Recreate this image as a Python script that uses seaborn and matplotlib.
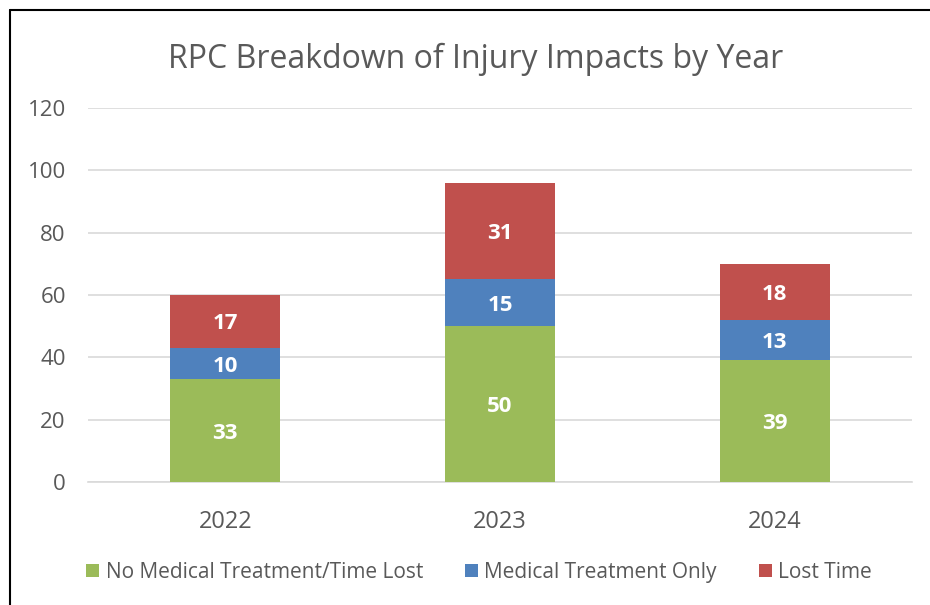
import numpy as np
import pandas as pd
import matplotlib
matplotlib.use('Agg')
import matplotlib.pyplot as plt
from matplotlib.lines import Line2D
from matplotlib.patches import Patch
import seaborn as sns

# Dades
anys = ['2022', '2023', '2024']
sense_tractament = [33, 50, 39]
nomes_tractament = [10, 15, 13]
temps_perdut = [17, 31, 18]
series = ['No Medical Treatment/Time Lost', 'Medical Treatment Only', 'Lost Time']
colors = ['#9BBB59', '#4F81BD', '#C0504D']

sns.set_theme(style='white')
plt.rcParams['font.family'] = ['Open Sans', 'DejaVu Sans']
gris = '#595959'

df = pd.DataFrame({'any': anys, 'a': sense_tractament, 'b': nomes_tractament, 'c': temps_perdut})
df['ab'] = df['a'] + df['b']
df['abc'] = df['ab'] + df['c']

fig = plt.figure(figsize=(9.3, 6.05), dpi=100)
ax = fig.add_axes([0.0946, 0.2033, 0.886, 0.6182])

# barres apilades: primer el total, despres les sumes parcials
for col, color in zip(['abc', 'ab', 'a'], colors[::-1]):
    sns.barplot(data=df, x='any', y=col, color=color, width=0.40,
                saturation=1, ax=ax, zorder=3, edgecolor='none')

# etiquetes dins de cada segment
for i in range(len(anys)):
    baixos = [0, df['a'][i], df['ab'][i]]
    valors = [df['a'][i], df['b'][i], df['c'][i]]
    for b, v in zip(baixos, valors):
        ax.text(i, b + v / 2, str(v), ha='center', va='center_baseline', color='white',
                fontsize=16, fontweight='bold', zorder=4)

ax.set_ylim(0, 120)
ax.set_xlim(-0.5, 2.5)
ax.set_yticks(range(0, 121, 20))
ax.yaxis.grid(True, color='#D9D9D9', linewidth=1.2, zorder=0)
ax.set_axisbelow(True)
for s in ['top', 'right', 'left']:
    ax.spines[s].set_visible(False)
ax.spines['bottom'].set_color('#D9D9D9')
ax.spines['bottom'].set_linewidth(1.2)
ax.set_xlabel('')
ax.set_ylabel('')
ax.tick_params(axis='y', labelsize=16, colors=gris, length=0, pad=16)
ax.tick_params(axis='x', labelsize=17, colors=gris, length=0, pad=20)

fig.text(0.511, 0.902, 'RPC Breakdown of Injury Impacts by Year', ha='center', va='center',
         fontsize=23, color=gris)

handles = [Patch(facecolor=c, edgecolor='none') for c in colors]
fig.legend(handles, series, loc='center', bbox_to_anchor=(0.515, 0.054), ncol=3,
           frameon=False, fontsize=15, labelcolor=gris, handlelength=0.65,
           handleheight=0.65, handletextpad=0.3, columnspacing=2.0)

# marc (nomes esquerra i dalt)
fig.add_artist(Line2D([10 / 930, 10 / 930], [0, 1 - 10 / 605], color='black', linewidth=1.5))
fig.add_artist(Line2D([10 / 930, 1], [1 - 10 / 605, 1 - 10 / 605], color='black', linewidth=1.5))

fig.savefig('out.png', dpi=100, facecolor='white')
